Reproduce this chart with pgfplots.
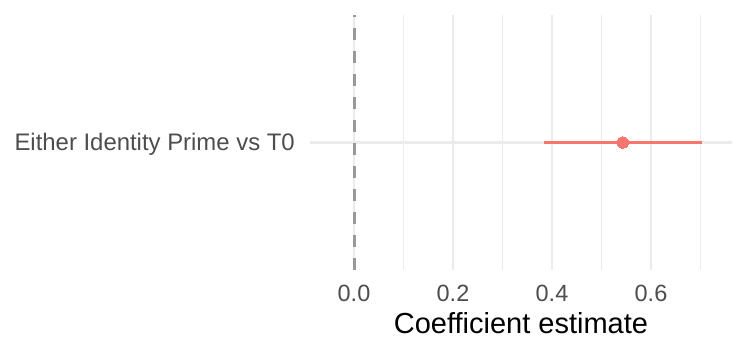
\documentclass[border=0pt]{standalone}
\usepackage{pgfplots}
\pgfplotsset{compat=1.18}
\usepackage{fontspec}
\setmainfont{Liberation Sans}
\definecolor{gridc}{HTML}{EBEBEB}
\definecolor{tickc}{HTML}{4D4D4D}
\definecolor{estc}{HTML}{F8766D}
\definecolor{zeroc}{HTML}{999999}
\begin{document}
\begin{tikzpicture}
\begin{axis}[
  at={(0,0)}, anchor=south west,
  scale only axis, width=422bp, height=255bp,
  xmin=-0.0889, xmax=0.7636, ymin=0.4, ymax=1.6,
  axis line style={draw=none},
  tick style={draw=none},
  xtick={0,0.2,0.4,0.6},
  minor xtick={0.1,0.3,0.5,0.7},
  xticklabels={0.0,0.2,0.4,0.6},
  ytick={1}, yticklabels={Either Identity Prime vs T0},
  xmajorgrids, xminorgrids, ymajorgrids,
  major grid style={draw=gridc, line width=2.8bp},
  minor grid style={draw=gridc, line width=1.5bp},
  xticklabel style={font=\fontsize{23.5bp}{26bp}\selectfont, text=tickc, anchor=base, inner sep=0pt, yshift=-31.7bp},
  yticklabel style={font=\fontsize{23.9bp}{26bp}\selectfont, text=tickc, anchor=base east, inner sep=0pt, xshift=-15bp, yshift=-8.5bp},
  xlabel={Coefficient estimate},
  xlabel style={at={(axis description cs:0.5,0)}, anchor=base, inner sep=0pt, yshift=-63bp, font=\fontsize{29bp}{32bp}\selectfont, text=black},
]
\addplot[draw=zeroc, line width=3bp, dash pattern=on 11.7bp off 11.3bp] coordinates {(0,0.4) (0,1.6)};
\addplot[draw=estc, line width=2.8bp] coordinates {(0.384,1) (0.704,1)};
\addplot[color=estc, only marks, mark=*, mark size=5.7bp, mark options={fill=estc, draw=estc, line width=0pt}] coordinates {(0.543,1)};
\end{axis}
\pgfresetboundingbox
\path[use as bounding box] (-310bp,-69bp) rectangle (423bp,270bp);
\end{tikzpicture}
\end{document}
